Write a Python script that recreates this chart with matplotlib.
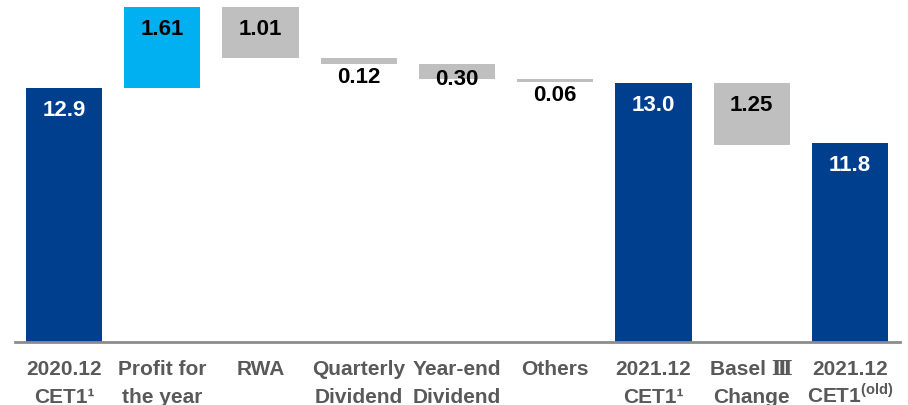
import matplotlib.pyplot as plt
import numpy as np

# Liberation Sans has no Ⅲ; DejaVu Serif supplies it
plt.rcParams["font.family"] = ["Liberation Sans", "DejaVu Serif", "DejaVu Sans"]
plt.rcParams["mathtext.fontset"] = "custom"
plt.rcParams["mathtext.rm"] = "Liberation Sans"
plt.rcParams["mathtext.bf"] = "Liberation Sans:bold"

# CET1 ratio walk, 2020.12 -> 2021.12
categories = [
    ("2020.12", "CET1¹"),
    ("Profit for", "the year"),
    ("RWA", ""),
    ("Quarterly", "Dividend"),
    ("Year-end", "Dividend"),
    ("Others", ""),
    ("2021.12", "CET1¹"),
    ("Basel Ⅲ", "Change"),
    ("2021.12", "CET1$^{\\mathbf{(old)}}$"),
]
changes = [12.9, 1.61, -1.01, -0.12, -0.30, -0.06, 13.0, -1.25, 11.8]
kinds = ["total", "up", "down", "down", "down", "down", "total", "down", "total"]
value_labels = ["12.9", "1.61", "1.01", "0.12", "0.30", "0.06", "13.0", "1.25", "11.8"]

NAVY = "#003F8E"
SKY = "#00B0F0"
GREY = "#BFBFBF"
TEXT_GREY = "#595959"

y_min, y_max = 7.81, 14.67

# running level for the floating bars
bottoms, heights, colors = [], [], []
level = 0.0
for val, kind in zip(changes, kinds):
    if kind == "total":
        bottoms.append(y_min)
        heights.append(val - y_min)
        colors.append(NAVY)
        level = val
    elif kind == "up":
        bottoms.append(level)
        heights.append(val)
        colors.append(SKY)
        level += val
    else:
        bottoms.append(level + val)
        heights.append(-val)
        colors.append(GREY)
        level += val

fig = plt.figure(figsize=(9.08, 4.06), dpi=100)
ax = fig.add_axes([15 / 908, 63 / 406, 885 / 908, 343 / 406])

x = np.arange(len(categories))
ax.bar(x, heights, bottom=bottoms, width=0.775, color=colors, linewidth=0)

for i, (val, kind, lab) in enumerate(zip(changes, kinds, value_labels)):
    top = bottoms[i] + heights[i]
    if kind == "total":
        ax.annotate(lab, (i, top), xytext=(0, -8), textcoords="offset points",
                    ha="center", va="top", color="white", fontsize=16, fontweight="bold")
    elif abs(val) < 0.2:
        # thin steps: label sits under the bar
        ax.annotate(lab, (i, bottoms[i]), xytext=(0, -2), textcoords="offset points",
                    ha="center", va="top", color="black", fontsize=16, fontweight="bold")
    else:
        off = -3 if abs(val) < 0.5 else -8
        ax.annotate(lab, (i, top), xytext=(0, off), textcoords="offset points",
                    ha="center", va="top", color="black", fontsize=16, fontweight="bold")

# category labels, one baseline per line so superscripts don't shift rows
for i, (line1, line2) in enumerate(categories):
    for text, dy in ((line1, -23), (line2, -43)):
        if text:
            ax.annotate(text, (i, 0), xycoords=("data", "axes fraction"),
                        xytext=(0, dy), textcoords="offset points",
                        ha="center", va="baseline", fontsize=15, fontweight="bold",
                        color=TEXT_GREY, annotation_clip=False)

ax.set_ylim(y_min, y_max)
ax.set_xlim(-0.5, 8.51)
ax.set_xticks([])
ax.set_yticks([])
for side in ["top", "right", "left"]:
    ax.spines[side].set_visible(False)
ax.spines["bottom"].set_color("#8C8C8C")
ax.spines["bottom"].set_linewidth(2)

fig.savefig("out.png", dpi=100)
